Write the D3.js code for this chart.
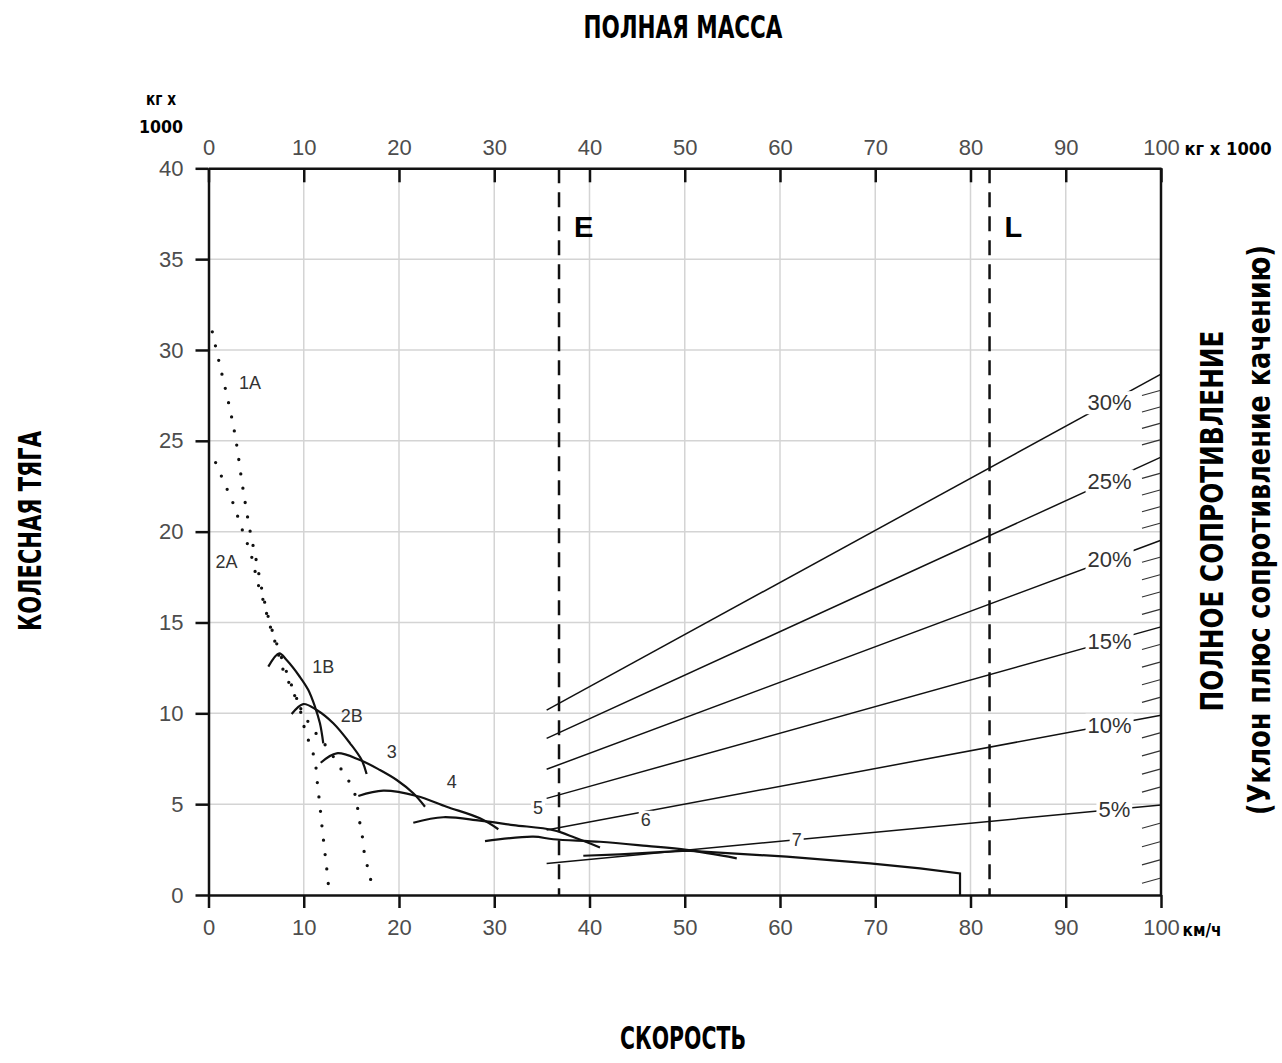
<!DOCTYPE html>
<html>
<head>
<meta charset="utf-8">
<script src="https://cdn.jsdelivr.net/npm/d3@7"></script>
<style>
  body { margin: 0; background: #fff; }
  .tick text { font-family: "Liberation Sans", Arial, sans-serif; fill: #4d4d4d; }
  .cap { font-family: "DejaVu Sans Condensed", "DejaVu Sans", sans-serif; font-weight: bold; fill: #000; }
  .lbl { font-family: "Liberation Sans", Arial, sans-serif; fill: #333; }
</style>
</head>
<body>
<div class="graph"></div>
<script>
// axis ticks
let speedTicks = [0, 10, 20, 30, 40, 50, 60, 70, 80, 90, 100];
let massTicks = [0, 10, 20, 30, 40, 50, 60, 70, 80, 90, 100];
let forceTicks = [0, 5, 10, 15, 20, 25, 30, 35, 40];

// rimpull curves: [speed, rimpull]
let curve1A = [[0.4, 31.0], [1.13, 29.3], [2.23, 26.8], [2.86, 25.1], [3.55, 22.6], [4.36, 20.05], [5.02, 18.4], [5.69, 16.6], [6.46, 14.95], [7.33, 13.58], [8.38, 12.01], [9.43, 10.55], [10.13, 9.08], [10.66, 8.26], [11.18, 7.43], [11.36, 6.51], [11.53, 5.69], [11.71, 4.86], [11.88, 3.95], [12.05, 3.12], [12.23, 2.29], [12.41, 1.47], [12.58, 0.6]];
let curve2A = [[0.75, 23.8], [1.4, 23.0], [2.15, 22.1], [2.78, 21.3], [3.3, 20.45], [3.9, 19.6], [4.46, 18.75], [4.85, 17.9], [5.27, 17.0], [5.75, 16.2], [6.3, 15.1], [7.0, 13.9], [7.85, 12.38], [8.56, 11.56], [9.26, 10.73], [10.0, 9.95], [11.0, 9.1], [12.2, 8.3], [13.0, 7.7], [13.98, 6.88], [14.86, 6.15], [15.56, 5.23], [15.73, 4.31], [16.08, 3.58], [16.25, 2.66], [16.61, 1.74], [16.96, 1.0], [17.3, 0.18]];
let curve1B = [[6.28, 12.57], [7.43, 13.3], [8.2, 12.93], [9.6, 12.0], [10.48, 11.28], [11.18, 10.36], [11.7, 9.45], [12.05, 8.35]];
let curve2B = [[8.73, 9.96], [9.95, 10.51], [11.36, 10.18], [13.1, 9.45], [14.86, 8.35], [16.08, 7.43], [16.6, 6.66]];
let curve3 = [[11.78, 7.28], [13.46, 7.8], [15.9, 7.43], [18.0, 6.88], [19.76, 6.33], [21.5, 5.6], [22.73, 4.86]];
let curve4 = [[15.73, 5.45], [18.35, 5.74], [21.86, 5.45], [25.0, 4.86], [28.5, 4.22], [30.43, 3.62]];
let curve5 = [[21.5, 3.98], [24.65, 4.28], [28.5, 4.09], [32.0, 3.85], [36.2, 3.57], [38.5, 3.15], [41.1, 2.62]];
let curve6 = [[29.03, 2.97], [34.1, 3.21], [36.2, 3.07], [41.1, 2.93], [46.0, 2.7], [50.2, 2.48], [55.46, 2.02]];
let curve7 = [[39.35, 2.16], [43.2, 2.24], [50.2, 2.44], [60.7, 2.11], [69.45, 1.74], [74.7, 1.47], [78.9, 1.19], [78.9, 0]];

let curveNames = ["1A", "2A", "1B", "2B", "3", "4", "5", "6", "7"];
let curveLabelPos = [[4.36, 28.2], [1.9, 18.35], [12.05, 12.57], [15.03, 9.9], [19.23, 7.89], [25.53, 6.24], [34.6, 4.8], [45.9, 4.17], [61.75, 3.03]];

// total resistance (grade) lines, from speed 35.5 to 100
let gradeNames = ["30%", "25%", "20%", "15%", "10%", "5%"];
let gradeStart = [10.18, 8.62, 6.92, 5.32, 3.58, 1.74];
let gradeEnd = [28.67, 24.1, 19.53, 14.76, 9.9, 4.95];
let gradeLabelAt = [94.6, 94.6, 94.6, 94.6, 94.6, 95.1];
let gradeMinor = [27.77, 26.86, 25.96, 25.05, 23.21, 22.29, 21.37, 20.46, 18.59, 17.63, 16.68, 15.72, 13.79, 12.82, 11.85, 10.88, 8.92, 7.93, 6.93, 5.94, 3.95, 2.93, 1.93, 0.92];

// empty / loaded markers
let markNames = ["E", "L"];
let markSpeed = [36.8, 82.0];

let W = 1282;
let H = 1063;

let svgvar = d3
  .select(".graph")
  .append("svg")
  .attr("width", W)
  .attr("height", H);

let xScale = d3.scaleLinear().domain([0, 100]).range([208.5, 1161]);
let yScale = d3.scaleLinear().domain([0, 40]).range([895, 168.3]);

// grid
svgvar
  .append("g")
  .selectAll("line")
  .data(speedTicks.slice(1, -1))
  .enter()
  .append("line")
  .attr("x1", (d) => xScale(d))
  .attr("x2", (d) => xScale(d))
  .attr("y1", yScale(0))
  .attr("y2", yScale(40))
  .attr("stroke", "#d4d4d4")
  .attr("stroke-width", 1.5);

svgvar
  .append("g")
  .selectAll("line")
  .data(forceTicks.slice(1, -1))
  .enter()
  .append("line")
  .attr("x1", xScale(0))
  .attr("x2", xScale(100))
  .attr("y1", (d) => yScale(d))
  .attr("y2", (d) => yScale(d))
  .attr("stroke", "#d4d4d4")
  .attr("stroke-width", 1.5);

// axes
let xAxis = d3.axisBottom(xScale).tickValues(speedTicks).tickSizeInner(13).tickSizeOuter(0).tickPadding(11);
let topAxis = d3.axisTop(xScale).tickValues(massTicks).tickSizeInner(-14).tickSizeOuter(0).tickPadding(13);
let yAxis = d3.axisLeft(yScale).tickValues(forceTicks).tickSizeInner(13).tickSizeOuter(0).tickPadding(12);

svgvar.append("g").attr("transform", "translate(0," + yScale(0) + ")").call(xAxis);
svgvar.append("g").attr("transform", "translate(0," + yScale(40) + ")").call(topAxis);
svgvar.append("g").attr("transform", "translate(" + xScale(0) + ",0)").call(yAxis);

svgvar
  .append("line")
  .attr("x1", xScale(100))
  .attr("x2", xScale(100))
  .attr("y1", yScale(40))
  .attr("y2", yScale(0))
  .attr("stroke", "#111")
  .attr("stroke-width", 2.5);

svgvar.selectAll(".domain").attr("stroke", "#111").attr("stroke-width", 2.5);
svgvar.selectAll(".tick line").attr("stroke", "#111").attr("stroke-width", 2.5);
svgvar.selectAll(".tick text").style("font-size", "22px");

// grade scale ticks on the right edge
svgvar
  .append("g")
  .selectAll("line")
  .data(gradeMinor)
  .enter()
  .append("line")
  .attr("x1", xScale(100) - 19)
  .attr("x2", xScale(100) - 1)
  .attr("y1", (d) => yScale(d) + 5)
  .attr("y2", (d) => yScale(d))
  .attr("stroke", "#333")
  .attr("stroke-width", 1.2);

// grade lines
svgvar
  .append("g")
  .selectAll("line")
  .data(gradeNames)
  .enter()
  .append("line")
  .attr("x1", xScale(35.5))
  .attr("x2", xScale(100))
  .attr("y1", (d, i) => yScale(gradeStart[i]))
  .attr("y2", (d, i) => yScale(gradeEnd[i]))
  .attr("stroke", "#111")
  .attr("stroke-width", 1.5);

// E / L lines
svgvar
  .append("g")
  .selectAll("line")
  .data(markSpeed)
  .enter()
  .append("line")
  .attr("x1", (d) => xScale(d))
  .attr("x2", (d) => xScale(d))
  .attr("y1", yScale(40))
  .attr("y2", yScale(0))
  .attr("stroke", "#111")
  .attr("stroke-width", 2.5)
  .attr("stroke-dasharray", "15,9");

svgvar
  .append("g")
  .selectAll("text")
  .data(markNames)
  .enter()
  .append("text")
  .attr("x", (d, i) => xScale(markSpeed[i]) + 15)
  .attr("y", yScale(36.8))
  .attr("dy", "0.36em")
  .style("font-family", "Liberation Sans, Arial, sans-serif")
  .style("font-weight", "bold")
  .style("font-size", "29px")
  .text((d) => d);

// rimpull curves
let line = d3
  .line()
  .x((d) => xScale(d[0]))
  .y((d) => yScale(d[1]))
  .curve(d3.curveCatmullRom.alpha(0.5));

[curve1A, curve2A].forEach(function (c) {
  svgvar
    .append("path")
    .attr("d", line(c))
    .attr("fill", "none")
    .attr("stroke", "#111")
    .attr("stroke-width", 3.3)
    .attr("stroke-linecap", "round")
    .attr("stroke-dasharray", "0,14.5");
});

[curve1B, curve2B, curve3, curve4, curve5, curve6].forEach(function (c) {
  svgvar
    .append("path")
    .attr("d", line(c))
    .attr("fill", "none")
    .attr("stroke", "#111")
    .attr("stroke-width", 2.2);
});

svgvar
  .append("path")
  .attr("d", line.curve(d3.curveLinear)(curve7))
  .attr("fill", "none")
  .attr("stroke", "#111")
  .attr("stroke-width", 2.2);

// labels with white backing where they sit on a line
function boxedLabel(x, y, txt, size, boxed) {
  let g = svgvar.append("g");
  let t = g
    .append("text")
    .attr("class", "lbl")
    .attr("x", x)
    .attr("y", y)
    .attr("dy", "0.36em")
    .attr("text-anchor", "middle")
    .style("font-size", size + "px")
    .text(txt);
  if (boxed) {
    let bb = t.node().getBBox();
    g.insert("rect", "text")
      .attr("x", bb.x - 2)
      .attr("y", bb.y + 1)
      .attr("width", bb.width + 4)
      .attr("height", bb.height - 2)
      .attr("fill", "#fff");
  }
}

curveNames.forEach(function (n, i) {
  boxedLabel(xScale(curveLabelPos[i][0]), yScale(curveLabelPos[i][1]), n, 18, i >= 6);
});

gradeNames.forEach(function (n, i) {
  let t = (gradeLabelAt[i] - 35.5) / (100 - 35.5);
  let v = gradeStart[i] + (gradeEnd[i] - gradeStart[i]) * t;
  boxedLabel(xScale(gradeLabelAt[i]), yScale(v), n, 22, true);
});

// titles and units, squeezed to a condensed width
function caption(x, y, rot, size, len, txt) {
  let t = svgvar
    .append("text")
    .attr("class", "cap")
    .attr("transform", "translate(" + x + "," + y + ")" + (rot ? " rotate(-90)" : ""))
    .attr("text-anchor", "middle")
    .style("font-size", size + "px")
    .text(txt);
  if (len) t.attr("textLength", len).attr("lengthAdjust", "spacingAndGlyphs");
}

caption(683, 38, false, 32, 199, "ПОЛНАЯ МАССА");
caption(683, 1049, false, 32, 126, "СКОРОСТЬ");
caption(41, 531, true, 32, 200, "КОЛЕСНАЯ ТЯГА");
caption(1223, 521, true, 32, 381, "ПОЛНОЕ СОПРОТИВЛЕНИЕ");
caption(1270, 530, true, 32, 570, "(Уклон плюс сопротивление качению)");

caption(161, 105, false, 17, 30, "кг x");
caption(161, 133, false, 18, 44, "1000");
caption(1228, 155, false, 18, 87, "кг x 1000");
caption(1202, 936, false, 18, 39, "км/ч");
</script>
</body>
</html>
